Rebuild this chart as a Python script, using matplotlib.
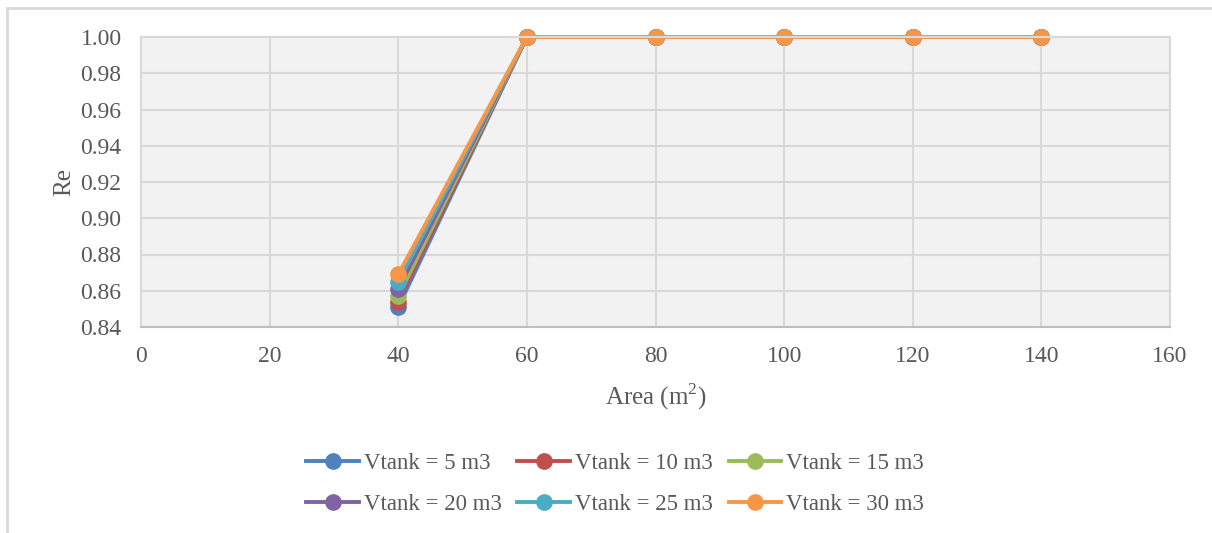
import matplotlib
matplotlib.use("Agg")
from matplotlib import pyplot as plt
from matplotlib.lines import Line2D

# Re versus collector area for several tank volumes
area = [40, 60, 80, 100, 120, 140]
re_5 = [0.851, 1.0, 1.0, 1.0, 1.0, 1.0]
re_10 = [0.854, 1.0, 1.0, 1.0, 1.0, 1.0]
re_15 = [0.857, 1.0, 1.0, 1.0, 1.0, 1.0]
re_20 = [0.861, 1.0, 1.0, 1.0, 1.0, 1.0]
re_25 = [0.865, 1.0, 1.0, 1.0, 1.0, 1.0]
re_30 = [0.869, 1.0, 1.0, 1.0, 1.0, 1.0]
labels = ["Vtank = 5 m3", "Vtank = 10 m3", "Vtank = 15 m3",
          "Vtank = 20 m3", "Vtank = 25 m3", "Vtank = 30 m3"]
colors = ["#4F81BD", "#C0504D", "#9BBB59", "#8064A2", "#4BACC6", "#F79646"]
x_ticks = [0, 20, 40, 60, 80, 100, 120, 140, 160]
y_ticks = [0.84, 0.86, 0.88, 0.90, 0.92, 0.94, 0.96, 0.98, 1.00]

plt.rcParams["font.family"] = ["Liberation Serif", "DejaVu Serif"]
plt.rcParams["mathtext.fontset"] = "custom"
plt.rcParams["mathtext.rm"] = "Liberation Serif"

fig = plt.figure(figsize=(12.12, 5.33), dpi=100)
fig.patch.set_facecolor("white")

# outer chart frame (left and top edges visible)
fig.add_artist(Line2D([7 / 1212, 7 / 1212], [0, 1 - 8 / 533], transform=fig.transFigure,
                      color="#d9d9d9", lw=2))
fig.add_artist(Line2D([7 / 1212, 1], [1 - 8 / 533, 1 - 8 / 533], transform=fig.transFigure,
                      color="#d9d9d9", lw=2))

ax = fig.add_axes([141 / 1212, 1 - 327 / 533, (1170 - 141) / 1212, (327 - 37) / 533])
ax.set_facecolor("#f2f2f2")

series = [re_5, re_10, re_15, re_20, re_25, re_30]
handles = []
for values, label, color in zip(series, labels, colors):
    line, = ax.plot(area, values, color=color, lw=2.8, marker="o", markersize=11,
                    markerfacecolor=color, markeredgecolor=color, label=label, clip_on=False)
    handles.append(line)

ax.set_xlim(0, 160)
ax.set_ylim(0.84, 1.00)
ax.set_xticks(x_ticks)
ax.set_yticks(y_ticks)
ax.set_yticklabels([f"{v:.2f}" for v in y_ticks])
ax.grid(True, color="#d9d9d9", lw=1.5)
ax.set_axisbelow(True)
for side in ["top", "right", "left"]:
    ax.spines[side].set_color("#d9d9d9")
    ax.spines[side].set_linewidth(1.5)
ax.spines["bottom"].set_color("#bfbfbf")
ax.spines["bottom"].set_linewidth(1.5)
ax.tick_params(axis="x", length=0, labelsize=17, labelcolor="#595959", pad=14)
ax.tick_params(axis="y", length=0, labelsize=17, labelcolor="#595959", pad=14)

ax.set_xlabel(r"Area (m$^{\mathrm{2}}$)", fontsize=18, color="#595959", labelpad=10)
ax.set_ylabel("Re", fontsize=18, color="#595959", labelpad=4)

# legend filled row by row
order = [0, 3, 1, 4, 2, 5]
leg = fig.legend([handles[i] for i in order], [labels[i] for i in order],
                 loc="center", bbox_to_anchor=(615 / 1212, 1 - 484 / 533), ncol=3,
                 frameon=False, fontsize=16.5, handlelength=2.3, handletextpad=0.2,
                 columnspacing=0.7, labelspacing=0.85)
for t in leg.get_texts():
    t.set_color("#595959")

fig.savefig("out.png", dpi=100)
